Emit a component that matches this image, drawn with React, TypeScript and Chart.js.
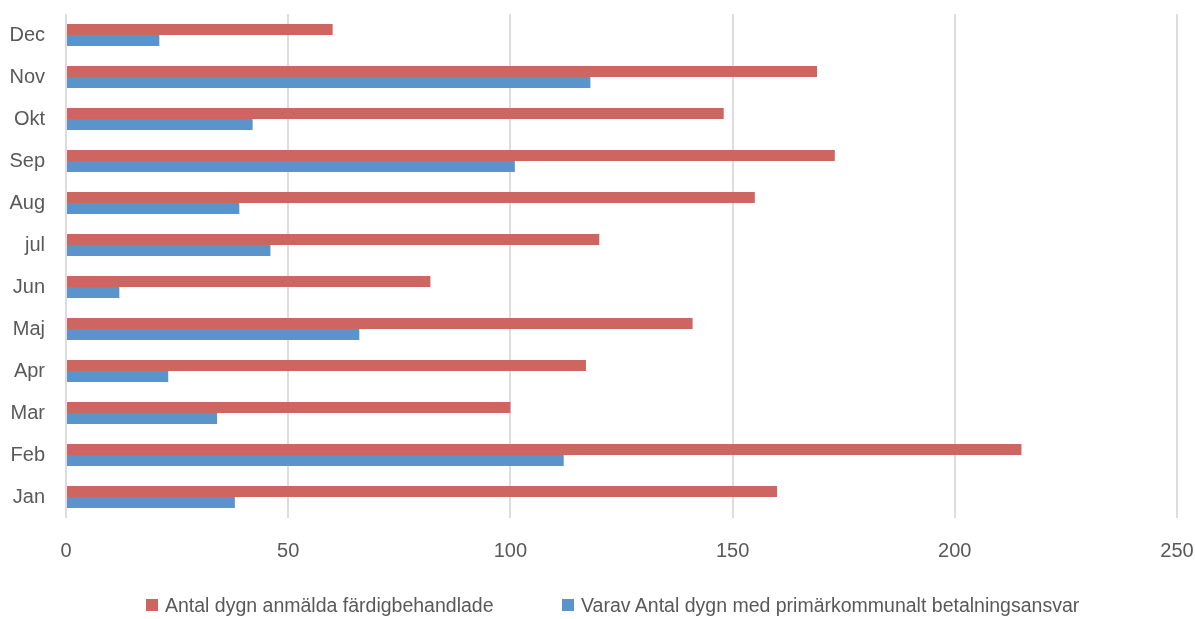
import React, { useEffect, useRef } from "react";
import { Chart, registerables } from "chart.js";

Chart.register(...registerables);

const months = ["Jan", "Feb", "Mar", "Apr", "Maj", "Jun", "jul", "Aug", "Sep", "Okt", "Nov", "Dec"];
const anmalda = [160, 215, 100, 117, 141, 82, 120, 155, 173, 148, 169, 60];
const varav = [38, 112, 34, 23, 66, 12, 46, 39, 101, 42, 118, 21];
const seriesNames = [
  "Antal dygn anmälda färdigbehandlade",
  "Varav Antal dygn med primärkommunalt betalningsansvar",
];
const seriesColors = ["#CD6560", "#5B94CB"];
const xTicks = [0, 50, 100, 150, 200, 250];

const FONT = "'Liberation Sans Narrow', 'Arial Narrow', 'Liberation Sans', Arial, sans-serif";
const TEXT = "#595959";

export default function App() {
  const ref = useRef<HTMLCanvasElement>(null);
  useEffect(() => {
    document.body.style.margin = "0";
    const ctx = ref.current!;
    const chart = new Chart(ctx, {
      type: "bar",
      data: {
        labels: months,
        datasets: [
          { label: seriesNames[0], data: anmalda, backgroundColor: seriesColors[0], categoryPercentage: 0.52, barPercentage: 1.0 },
          { label: seriesNames[1], data: varav, backgroundColor: seriesColors[1], categoryPercentage: 0.52, barPercentage: 1.0 },
        ],
      },
      options: {
        indexAxis: "y",
        responsive: false,
        animation: false,
        layout: { padding: { top: 14, right: 18, left: 0, bottom: 0 } },
        scales: {
          x: {
            min: 0,
            max: 250,
            afterBuildTicks: (s: any) => { s.ticks = xTicks.map((v) => ({ value: v })); },
            grid: { color: "#DDDDDD", lineWidth: 2, drawTicks: false },
            border: { display: false },
            ticks: { color: TEXT, font: { family: FONT, size: 20 }, padding: 21, maxRotation: 0 },
            afterFit: (s: any) => {
              s.height = 101;
              s.paddingLeft = 0;
              s.paddingRight = 0;
            },
          },
          y: {
            reverse: true,
            grid: { display: false, drawTicks: false },
            border: { display: false },
            ticks: { color: TEXT, font: { family: FONT, size: 20 }, padding: 21 },
            afterFit: (s: any) => {
              s.width = 66;
              s.paddingTop = 0;
              s.paddingBottom = 0;
            },
          },
        },
        plugins: {
          tooltip: { enabled: false },
          legend: { display: false },
        },
      },
    });
    return () => chart.destroy();
  }, []);
  const legendLeft = [146, 562];
  return (
    <div style={{ position: "fixed", left: 0, top: 0, width: 1195, height: 619, background: "#fff" }}>
      <canvas ref={ref} width={1195} height={619} style={{ display: "block" }} />
      {seriesNames.map((name, i) => (
        <div
          key={name}
          style={{
            position: "absolute",
            left: legendLeft[i],
            top: 593,
            height: 24,
            display: "flex",
            alignItems: "center",
            fontFamily: FONT,
            fontSize: 19.5,
            color: TEXT,
            whiteSpace: "nowrap",
          }}
        >
          <span style={{ display: "inline-block", width: 12, height: 12, background: seriesColors[i], marginRight: 7 }} />
          <span>{name}</span>
        </div>
      ))}
    </div>
  );
}
